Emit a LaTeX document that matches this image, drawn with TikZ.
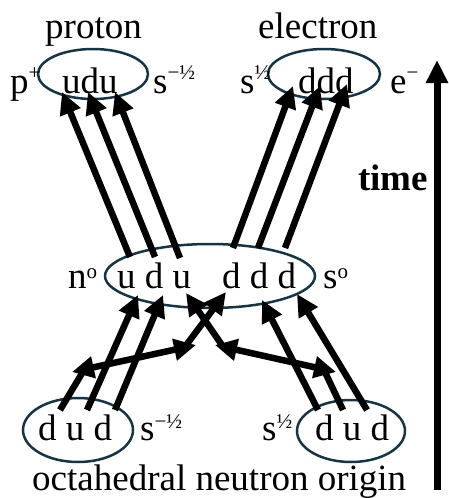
\documentclass[tikz,border=0pt]{standalone}
\usepackage{fontspec}
\setmainfont{Liberation Serif}
\usetikzlibrary{arrows.meta,shapes.geometric}
\definecolor{ecol}{RGB}{22,52,68}
\newcommand\upx[2]{\raisebox{#1}{\fontsize{21}{21}\selectfont #2}}
\begin{document}
\begin{tikzpicture}[x=1pt,y=-1pt,
  lbl/.style={anchor=base west, inner sep=0pt, font=\fontsize{37}{40}\selectfont},
  ring/.style={draw=ecol, line width=2.5pt, ellipse, inner sep=0pt},
  qarrow/.style={line width=6.5pt, -{Triangle[length=22pt,width=21pt]}},
  qdouble/.style={line width=6.5pt, {Triangle[length=22pt,width=21pt]}-{Triangle[length=22pt,width=21pt]}},
  qline/.style={line width=6.5pt},
  tarrow/.style={line width=7pt, -{Triangle[length=23pt,width=21pt]}}]
\useasboundingbox (0,0) rectangle (448,498);
% ellipses
\node[ring, minimum width=110pt, minimum height=50pt] (P) at (93,74) {};
\node[ring, minimum width=112pt, minimum height=50pt] (E) at (324,74) {};
\node[ring, minimum width=210pt, minimum height=64pt] (N) at (210,276) {};
\node[ring, minimum width=110pt, minimum height=64pt] (L) at (78,430) {};
\node[ring, minimum width=108pt, minimum height=62pt] (R) at (351,431) {};
% texts
\node[lbl] (tp) at (45,38) {proton};
\node[lbl] (te) at (258,38) {electron};
\node[lbl] (pp) at (10,93) {p\upx{14pt}{+}};
\node[lbl] (udu) at (62,93) {udu};
\node[lbl] (s1) at (153,93) {s\upx{14pt}{−½}};
\node[lbl] (s2) at (240,93) {s\upx{14pt}{½}};
\node[lbl] (ddd) at (298,93) {ddd};
\node[lbl] (em) at (390,93) {e\upx{14pt}{−}};
\node[lbl] (n0) at (68,288) {n\upx{10pt}{o}};
\node[lbl] (mu) at (117,288) {u d u};
\node[lbl] (md) at (222,288) {d d d};
\node[lbl] (s0) at (323,288) {s\upx{10pt}{o}};
\node[lbl] (bl) at (38,440) {d u d};
\node[lbl] (s3) at (140,440) {s\upx{12pt}{−½}};
\node[lbl] (s4) at (262,440) {s\upx{12pt}{½}};
\node[lbl] (br) at (315,440) {d u d};
\node[lbl] (orig) at (32,490) {octahedral neutron origin};
\node[lbl, font=\fontsize{37}{40}\selectfont\bfseries] (time) at (358,190) {time};
% coordinates
\coordinate (a1) at (130,257); \coordinate (b1) at (62,92);
\coordinate (a2) at (155,257); \coordinate (b2) at (88,92);
\coordinate (a3) at (180,258); \coordinate (b3) at (115,92);
\coordinate (c1) at (233,248); \coordinate (d1) at (293,86);
\coordinate (c2) at (258,248); \coordinate (d2) at (320,86);
\coordinate (c3) at (285,248); \coordinate (d3) at (347,84);
\coordinate (e1) at (60,410);  \coordinate (f1) at (84,370);
\coordinate (e2) at (87,410);  \coordinate (f2) at (138,295);
\coordinate (e3) at (115,410); \coordinate (f3) at (163,295);
\coordinate (g1) at (367,410); \coordinate (h1) at (297,294);
\coordinate (g2) at (343,410); \coordinate (h2) at (324,370);
\coordinate (g3) at (318,410); \coordinate (h3) at (262,300);
\coordinate (hl1) at (72,372); \coordinate (hl2) at (196,345);
\coordinate (hr1) at (215,345); \coordinate (hr2) at (336,372);
\coordinate (x1) at (184,348); \coordinate (y1) at (226,292);
\coordinate (x2) at (224,348); \coordinate (y2) at (186,293);
\coordinate (t1) at (437,490); \coordinate (t2) at (437,60);
% arrows
\draw[qarrow] (a1) -- (b1);
\draw[qarrow] (a2) -- (b2);
\draw[qarrow] (a3) -- (b3);
\draw[qarrow] (c1) -- (d1);
\draw[qarrow] (c2) -- (d2);
\draw[qarrow] (c3) -- (d3);
\draw[qline] (e1) -- (f1);
\draw[qarrow] (e2) -- (f2);
\draw[qarrow] (e3) -- (f3);
\draw[qline] (g2) -- (h2);
\draw[qarrow] (g1) -- (h1);
\draw[qarrow] (g3) -- (h3);
\draw[qdouble] (hl1) -- (hl2);
\draw[qdouble] (hr1) -- (hr2);
\draw[qarrow] (x1) -- (y1);
\draw[qarrow] (x2) -- (y2);
\draw[tarrow] (t1) -- (t2);
\end{tikzpicture}
\end{document}
